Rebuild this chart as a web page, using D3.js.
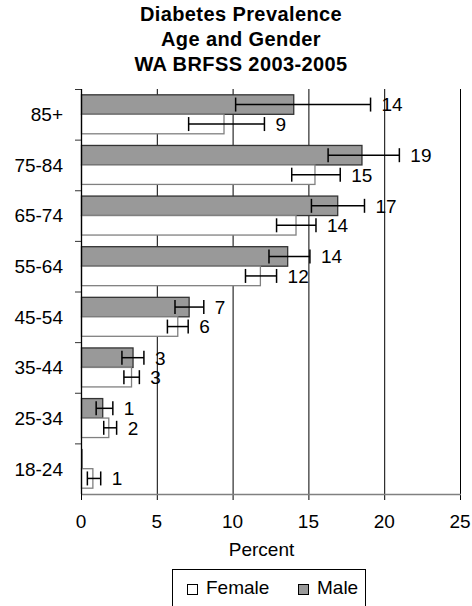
<!DOCTYPE html>
<html>
<head>
<meta charset="utf-8">
<script src="https://cdn.jsdelivr.net/npm/d3@7"></script>
<style>
  html, body { margin: 0; padding: 0; background: #fff; }
  svg { display: block; }
  text { font-family: "Liberation Sans", Arial, sans-serif; fill: #000; }
</style>
</head>
<body>
<div id="chart"></div>
<script>
const titleLines = ["Diabetes Prevalence", "Age and Gender", "WA BRFSS 2003-2005"];
const categories = ["85+", "75-84", "65-74", "55-64", "45-54", "35-44", "25-34", "18-24"];
const maleValues = [14.0, 18.5, 16.9, 13.6, 7.1, 3.4, 1.4, 0.05];
const maleLow    = [10.2, 16.3, 15.2, 12.4, 6.2, 2.7, 1.0, null];
const maleHigh   = [19.1, 21.0, 18.7, 15.1, 8.1, 4.15, 2.1, null];
const maleLabels = ["14", "19", "17", "14", "7", "3", "1", ""];
const femaleValues = [9.4, 15.4, 14.15, 11.8, 6.35, 3.3, 1.8, 0.75];
const femaleLow    = [7.1, 13.9, 12.9, 10.85, 5.7, 2.83, 1.5, 0.42];
const femaleHigh   = [12.1, 17.1, 15.5, 12.9, 7.07, 3.85, 2.35, 1.3];
const femaleLabels = ["9", "15", "14", "12", "6", "3", "2", "1"];
const xTicks = [0, 5, 10, 15, 20, 25];
const xDomain = [0, 25];
const xTitle = "Percent";
const seriesNames = ["Female", "Male"];

const W = 472, H = 606;
const margin = { left: 81, right: 12, top: 89, bottom: 112 };
const plotW = 460 - margin.left;
const plotH = 494 - margin.top;

const svg = d3.select("#chart").append("svg").attr("width", W).attr("height", H);

// Title
svg.append("g").selectAll("text").data(titleLines).join("text")
  .attr("x", 241).attr("y", (d, i) => 21 + i * 24.8)
  .attr("text-anchor", "middle")
  .style("font-size", "20px").style("font-weight", "bold").style("letter-spacing", "0.4px")
  .text(d => d);

const x = d3.scaleLinear().domain(xDomain).range([0, plotW]);
const y = d3.scaleBand().domain(categories).range([0, plotH]).paddingInner(0.23).paddingOuter(0.115);
const sub = d3.scaleBand().domain(["Male", "Female"]).range([0, y.bandwidth()]);

const g = svg.append("g").attr("transform", `translate(${margin.left},${margin.top})`);

// Gridlines (extend slightly below baseline as tick marks)
g.append("g").selectAll("line").data(xTicks.filter(t => t > 0)).join("line")
  .attr("x1", d => x(d) + 0.5).attr("x2", d => x(d) + 0.5)
  .attr("y1", 0).attr("y2", plotH + 6)
  .attr("stroke", "#000").attr("stroke-width", 1);

// bottom axis line
g.append("line").attr("x1", 0).attr("x2", plotW + 1).attr("y1", plotH + 0.5).attr("y2", plotH + 0.5)
  .attr("stroke", "#808080").attr("stroke-width", 1.5);
// zero tick
g.append("line").attr("x1", 0.5).attr("x2", 0.5).attr("y1", plotH).attr("y2", plotH + 6)
  .attr("stroke", "#000");

const rows = categories.map((c, i) => ({
  cat: c,
  series: [
    { key: "Male", v: maleValues[i], lo: maleLow[i], hi: maleHigh[i], label: maleLabels[i] },
    { key: "Female", v: femaleValues[i], lo: femaleLow[i], hi: femaleHigh[i], label: femaleLabels[i] }
  ]
}));

const groups = g.append("g").selectAll("g").data(rows).join("g")
  .attr("transform", d => `translate(0,${y(d.cat)})`);

const items = groups.selectAll("g.item").data(d => d.series).join("g").attr("class", "item");

items.append("rect")
  .attr("x", 0.5).attr("y", d => sub(d.key))
  .attr("width", d => x(d.v)).attr("height", sub.bandwidth())
  .attr("fill", d => d.key === "Male" ? "#999999" : "#ffffff")
  .attr("stroke", d => d.key === "Male" ? "#333333" : "#808080")
  .attr("stroke-width", d => d.v < 0.5 ? 0.6 : 1.3);

const eb = items.filter(d => d.lo != null && d.hi != null).append("g")
  .attr("stroke", "#000").attr("stroke-width", 1.5);
eb.append("line")
  .attr("x1", d => x(d.lo)).attr("x2", d => x(d.hi))
  .attr("y1", d => sub(d.key) + sub.bandwidth() / 2).attr("y2", d => sub(d.key) + sub.bandwidth() / 2);
eb.append("line")
  .attr("x1", d => x(d.lo)).attr("x2", d => x(d.lo))
  .attr("y1", d => sub(d.key) + sub.bandwidth() / 2 - 7).attr("y2", d => sub(d.key) + sub.bandwidth() / 2 + 7);
eb.append("line")
  .attr("x1", d => x(d.hi)).attr("x2", d => x(d.hi))
  .attr("y1", d => sub(d.key) + sub.bandwidth() / 2 - 7).attr("y2", d => sub(d.key) + sub.bandwidth() / 2 + 7);

items.filter(d => d.label).append("text")
  .attr("x", d => x(d.hi != null ? d.hi : d.v) + 11)
  .attr("y", d => sub(d.key) + sub.bandwidth() / 2)
  .attr("dy", "0.36em")
  .style("font-size", "19px")
  .text(d => d.label);

// Y axis line & ticks
g.append("line").attr("x1", 0.5).attr("x2", 0.5).attr("y1", 0).attr("y2", plotH)
  .attr("stroke", "#000").attr("stroke-width", 1.3);
const bounds = d3.range(categories.length).map(i => y.step() * i);
g.append("g").selectAll("line").data(bounds).join("line")
  .attr("x1", -6).attr("x2", 0).attr("y1", d => d + 0.5).attr("y2", d => d + 0.5)
  .attr("stroke", "#333");

// Y labels
g.append("g").selectAll("text").data(categories).join("text")
  .attr("x", -18).attr("y", d => y(d) + y.bandwidth() / 2)
  .attr("dy", "0.36em").attr("text-anchor", "end")
  .style("font-size", "19px")
  .text(d => d);

// X tick labels
g.append("g").selectAll("text").data(xTicks).join("text")
  .attr("x", d => x(d)).attr("y", plotH + 34)
  .attr("text-anchor", "middle").style("font-size", "19px")
  .text(d => d);

g.append("text").attr("x", x(12.5) - 9).attr("y", plotH + 62)
  .attr("text-anchor", "middle").style("font-size", "19px").text(xTitle);

// Legend
const leg = svg.append("g");
leg.append("rect").attr("x", 172.5).attr("y", 569.5).attr("width", 193).attr("height", 50)
  .attr("fill", "#fff").attr("stroke", "#000").attr("stroke-width", 1);
const legX = [187, 298];
seriesNames.forEach((s, i) => {
  leg.append("rect").attr("x", legX[i] + 0.5).attr("y", 584.5).attr("width", 10).attr("height", 10)
    .attr("fill", s === "Male" ? "#999999" : "#fff").attr("stroke", "#000").attr("stroke-width", 1);
  leg.append("text").attr("x", legX[i] + 19).attr("y", 594).style("font-size", "19px").text(s);
});
</script>
</body>
</html>
